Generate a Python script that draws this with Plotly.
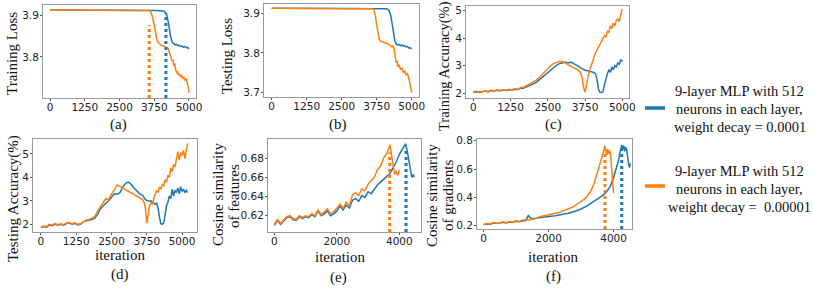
import plotly.graph_objects as go

W, H = 814, 289
BLUE = '#1f77b4'
ORANGE = '#ff7f0e'

# ---------------- (a) Training Loss ----------------
a_blue_x = [0, 500, 1000, 1500, 2000, 2500, 3000, 3500, 3800, 4000, 4100, 4150, 4200, 4250, 4300, 4350, 4400,
            4450, 4500, 4550, 4600, 4650, 4700, 4750, 4800, 4850, 4900, 4950, 5000]
a_blue_y = [3.912, 3.912, 3.912, 3.912, 3.912, 3.912, 3.912, 3.912, 3.911, 3.910, 3.909, 3.906, 3.900, 3.885,
            3.862, 3.845, 3.835, 3.831, 3.829, 3.830, 3.827, 3.828, 3.825, 3.826, 3.823, 3.825, 3.822, 3.823, 3.819]
a_orange_x = [0, 500, 1000, 1500, 2000, 2500, 3000, 3400, 3550, 3620, 3680, 3720, 3760, 3800, 3850, 3900, 3950,
              4000, 4050, 4100, 4150, 4200, 4250, 4300, 4350, 4400, 4430, 4460, 4490, 4520, 4550, 4580, 4620,
              4660, 4700, 4740, 4780, 4820, 4860, 4900, 4940, 4970, 5000]
a_orange_y = [3.912, 3.912, 3.912, 3.912, 3.912, 3.912, 3.912, 3.912, 3.911, 3.908, 3.898, 3.885, 3.868, 3.852,
              3.840, 3.834, 3.830, 3.828, 3.826, 3.825, 3.825, 3.823, 3.820, 3.812, 3.800, 3.790, 3.793, 3.778,
              3.785, 3.770, 3.762, 3.766, 3.757, 3.760, 3.752, 3.756, 3.748, 3.752, 3.745, 3.748, 3.738, 3.730, 3.715]
a_vline_x = [4170, 3570]       # blue, orange
a_vline_top = [3.905, 3.876]

# ---------------- (b) Testing Loss ----------------
b_blue_x = [0, 500, 1000, 1500, 2000, 2500, 3000, 3500, 4000, 4100, 4150, 4200, 4250, 4300, 4350, 4400, 4450,
            4500, 4550, 4600, 4650, 4700, 4750, 4800, 4850, 4900, 4950, 5000]
b_blue_y = [3.912, 3.912, 3.912, 3.912, 3.912, 3.912, 3.912, 3.912, 3.912, 3.911, 3.909, 3.905, 3.895, 3.870,
            3.845, 3.830, 3.822, 3.820, 3.821, 3.818, 3.820, 3.817, 3.818, 3.815, 3.816, 3.812, 3.813, 3.810]
b_orange_x = [0, 500, 1000, 1500, 2000, 2500, 3000, 3500, 3600, 3650, 3700, 3750, 3800, 3850, 3900, 3950, 4000,
              4050, 4100, 4150, 4200, 4250, 4300, 4330, 4360, 4400, 4450, 4480, 4500, 4550, 4600, 4650, 4700,
              4750, 4800, 4850, 4900, 4950, 5000]
b_orange_y = [3.912, 3.912, 3.912, 3.912, 3.912, 3.912, 3.912, 3.912, 3.911, 3.908, 3.895, 3.870, 3.845, 3.832,
              3.829, 3.828, 3.827, 3.826, 3.825, 3.823, 3.820, 3.817, 3.815, 3.818, 3.812, 3.795, 3.775, 3.780,
              3.765, 3.770, 3.758, 3.762, 3.750, 3.755, 3.745, 3.748, 3.735, 3.720, 3.700]

# ---------------- (c) Training Accuracy ----------------
c_x = [0, 100, 200, 300, 400, 500, 600, 700, 800, 900, 1000, 1100, 1200, 1300, 1400, 1500, 1600, 1700, 1800,
       1900, 2000, 2100, 2200, 2300, 2400, 2500, 2600, 2700, 2800, 2900, 3000, 3100, 3200, 3300, 3400, 3500,
       3550, 3600, 3650, 3700, 3750, 3800, 3850, 3900, 3950, 4000, 4050, 4100, 4150, 4200, 4250, 4300, 4350,
       4400, 4450, 4500, 4550, 4600, 4650, 4700, 4750, 4800, 4850, 4900, 4950, 5000]
c_blue_y = [2.03, 2.06, 2.02, 2.05, 2.07, 2.04, 2.09, 2.07, 2.10, 2.08, 2.11, 2.09, 2.12, 2.11, 2.14, 2.13, 2.17,
            2.18, 2.23, 2.27, 2.33, 2.38, 2.47, 2.56, 2.66, 2.76, 2.86, 2.95, 3.02, 3.08, 3.10, 3.12, 3.10, 3.12,
            3.05, 3.00, 2.96, 2.92, 2.88, 2.85, 2.83, 2.82, 2.81, 2.80, 2.79, 2.78, 2.75, 2.70, 2.50, 2.15, 2.03,
            2.02, 2.05, 2.30, 2.55, 2.70, 2.85, 2.75, 2.95, 2.85, 3.00, 2.95, 3.10, 3.05, 3.22, 3.15]
c_orange_y = [2.05, 2.02, 2.06, 2.04, 2.08, 2.06, 2.10, 2.08, 2.12, 2.09, 2.12, 2.10, 2.14, 2.12, 2.16, 2.14,
              2.20, 2.22, 2.28, 2.33, 2.40, 2.46, 2.55, 2.66, 2.78, 2.90, 3.00, 3.08, 3.13, 3.16, 3.14, 3.10,
              3.02, 2.97, 2.90, 2.85, 2.80, 2.75, 2.55, 2.20, 2.03, 2.35, 2.60, 2.80, 3.00, 3.15, 3.30, 3.45,
              3.55, 3.65, 3.80, 3.85, 3.95, 4.10, 4.05, 4.25, 4.20, 4.45, 4.35, 4.55, 4.45, 4.65, 4.70, 4.60,
              4.85, 5.05]

# ---------------- (d) Testing Accuracy ----------------
d_x = [0, 100, 200, 300, 400, 500, 600, 700, 800, 900, 1000, 1100, 1200, 1300, 1400, 1500, 1600, 1700, 1800,
       1900, 2000, 2100, 2200, 2300, 2400, 2500, 2600, 2700, 2800, 2900, 3000, 3100, 3200, 3300, 3400, 3500,
       3600, 3650, 3700, 3750, 3800, 3850, 3900, 3950, 4000, 4050, 4100, 4150, 4200, 4250, 4300, 4350, 4400,
       4450, 4500, 4550, 4600, 4650, 4700, 4750, 4800, 4850, 4900, 4950, 5000, 5050, 5100, 5150, 5200]
d_blue_y = [1.86, 1.90, 1.87, 1.97, 1.94, 2.01, 1.96, 2.00, 1.95, 2.03, 2.06, 2.00, 2.04, 1.97, 2.00, 2.10, 2.15,
            2.17, 2.20, 2.25, 2.40, 2.65, 2.80, 2.90, 3.00, 3.15, 3.30, 3.28, 3.35, 3.60, 3.75, 3.80, 3.70, 3.55,
            3.40, 3.30, 3.25, 3.15, 3.05, 3.02, 3.00, 2.98, 3.00, 2.95, 2.88, 2.85, 2.90, 2.70, 2.30, 2.02, 2.00,
            2.05, 2.40, 2.80, 2.95, 3.20, 3.10, 3.50, 3.20, 3.45, 3.35, 3.55, 3.30, 3.60, 3.40, 3.50, 3.35, 3.45,
            3.35]
d_orange_y = [1.88, 1.92, 1.90, 2.00, 1.96, 2.03, 1.98, 2.02, 1.97, 2.05, 2.08, 2.02, 2.06, 1.99, 2.02, 2.12,
              2.18, 2.20, 2.25, 2.32, 2.55, 2.75, 2.90, 3.10, 3.05, 3.30, 3.45, 3.68, 3.62, 3.55, 3.48, 3.42,
              3.35, 3.25, 3.20, 3.12, 3.05, 2.95, 2.70, 2.05, 2.40, 2.80, 2.95, 2.85, 3.10, 3.25, 3.45, 3.35,
              3.60, 3.50, 3.70, 3.65, 3.90, 3.80, 4.10, 4.00, 4.40, 4.25, 4.55, 4.45, 4.80, 5.10, 4.75, 5.05,
              4.95, 5.15, 4.80, 5.10, 5.45]

# ---------------- (e) Cosine similarity of features ----------------
e_blue_x = [0, 100, 200, 300, 400, 500, 600, 700, 800, 900, 1000, 1100, 1200, 1300, 1400, 1500, 1600, 1700,
            1800, 1900, 2000, 2100, 2200, 2300, 2400, 2500, 2600, 2700, 2800, 2900, 3000, 3100, 3200, 3300,
            3400, 3500, 3600, 3700, 3800, 3900, 4000, 4100, 4150, 4200, 4250, 4300, 4350, 4400, 4450, 4480]
e_blue_y = [0.610, 0.615, 0.611, 0.614, 0.618, 0.619, 0.616, 0.615, 0.619, 0.617, 0.619, 0.618, 0.621, 0.619,
            0.625, 0.620, 0.622, 0.625, 0.620, 0.622, 0.625, 0.630, 0.626, 0.631, 0.628, 0.636, 0.638, 0.635,
            0.641, 0.639, 0.645, 0.643, 0.648, 0.652, 0.655, 0.658, 0.661, 0.664, 0.670, 0.676, 0.684, 0.690,
            0.692, 0.695, 0.688, 0.678, 0.668, 0.660, 0.663, 0.660]
e_orange_x = [0, 100, 200, 300, 400, 500, 600, 700, 800, 900, 1000, 1100, 1200, 1300, 1400, 1500, 1600, 1700,
              1800, 1900, 2000, 2100, 2200, 2300, 2400, 2500, 2600, 2700, 2800, 2900, 3000, 3100, 3200, 3300,
              3400, 3500, 3600, 3700, 3750, 3800, 3850, 3900, 3950, 4000]
e_orange_y = [0.611, 0.616, 0.612, 0.615, 0.619, 0.620, 0.617, 0.616, 0.620, 0.618, 0.620, 0.619, 0.622, 0.620,
              0.626, 0.621, 0.624, 0.627, 0.622, 0.624, 0.628, 0.632, 0.628, 0.634, 0.630, 0.642, 0.644, 0.641,
              0.648, 0.646, 0.653, 0.656, 0.660, 0.668, 0.672, 0.680, 0.685, 0.694, 0.684, 0.670, 0.663, 0.667,
              0.662, 0.668]
e_vline_x = [4215, 3690]
e_vline_top = [0.690, 0.686]

# ---------------- (f) Cosine similarity of gradients ----------------
f_blue_x = [0, 100, 200, 300, 400, 500, 600, 700, 800, 900, 1000, 1100, 1200, 1300, 1380, 1420, 1500, 1600,
            1700, 1800, 1900, 2000, 2200, 2400, 2600, 2800, 3000, 3200, 3400, 3500, 3600, 3700, 3800, 3900,
            4000, 4100, 4150, 4200, 4250, 4280, 4310, 4340, 4370, 4400, 4430, 4460, 4490, 4510]
f_blue_y = [0.208, 0.213, 0.210, 0.219, 0.216, 0.218, 0.225, 0.220, 0.227, 0.224, 0.232, 0.228, 0.235, 0.238,
            0.275, 0.258, 0.250, 0.252, 0.255, 0.258, 0.260, 0.265, 0.270, 0.278, 0.288, 0.300, 0.318, 0.342,
            0.372, 0.390, 0.405, 0.420, 0.445, 0.480, 0.540, 0.610, 0.660, 0.720, 0.770, 0.745, 0.765, 0.725,
            0.755, 0.740, 0.680, 0.640, 0.610, 0.640]
f_orange_x = [0, 100, 200, 300, 400, 500, 600, 700, 800, 900, 1000, 1100, 1200, 1300, 1400, 1500, 1600, 1700,
              1800, 1900, 2000, 2100, 2200, 2300, 2400, 2500, 2600, 2700, 2800, 2900, 3000, 3100, 3200, 3300,
              3400, 3500, 3550, 3600, 3650, 3700, 3730, 3760, 3790, 3820, 3850, 3880, 3910, 3940, 3970, 4000]
f_orange_y = [0.210, 0.215, 0.212, 0.222, 0.218, 0.220, 0.228, 0.222, 0.230, 0.226, 0.235, 0.230, 0.238, 0.242,
              0.240, 0.245, 0.250, 0.262, 0.268, 0.272, 0.278, 0.283, 0.288, 0.292, 0.300, 0.310, 0.318, 0.328,
              0.340, 0.355, 0.370, 0.388, 0.412, 0.445, 0.500, 0.570, 0.610, 0.650, 0.690, 0.730, 0.765, 0.735,
              0.700, 0.740, 0.705, 0.730, 0.700, 0.600, 0.500, 0.430]
f_vline_x = [4250, 3735]
f_vline_top = [0.750, 0.735]

x_ticks_long = [0, 1250, 2500, 3750, 5000]
x_ticks_short = [0, 2000, 4000]

legend_blue = ["9-layer MLP with 512", "neurons in each layer,", "weight decay = 0.0001"]
legend_orange = ["9-layer MLP with 512", "neurons in each layer,", "weight decay =  0.00001"]

# ---------------- layout helpers ----------------
def fx(p):
    return p / W


def fy(p):
    return 1 - p / H


panels = [
    dict(box=(43, 196, 5, 98), xr=[-252, 5252], yr=[3.702, 3.924], xt=x_ticks_long, yt=[3.8, 3.9],
         series=[(a_blue_x, a_blue_y, BLUE), (a_orange_x, a_orange_y, ORANGE)],
         vl=[(a_vline_x[0], a_vline_top[0], BLUE), (a_vline_x[1], a_vline_top[1], ORANGE)]),
    dict(box=(264, 419, 4, 97), xr=[-275, 5260], yr=[3.689, 3.923], xt=x_ticks_long, yt=[3.7, 3.8, 3.9],
         series=[(b_blue_x, b_blue_y, BLUE), (b_orange_x, b_orange_y, ORANGE)], vl=[]),
    dict(box=(466, 629, 6, 98), xr=[-245, 5225], yr=[1.82, 5.17], xt=x_ticks_long, yt=[2, 3, 4, 5],
         series=[(c_x, c_blue_y, BLUE), (c_x, c_orange_y, ORANGE)], vl=[]),
    dict(box=(33, 197, 139, 232), xr=[-282, 5530], yr=[1.67, 5.64], xt=x_ticks_long, yt=[2, 3, 4, 5],
         series=[(d_x, d_blue_y, BLUE), (d_x, d_orange_y, ORANGE)], vl=[]),
    dict(box=(268, 421, 139, 232), xr=[-202, 4694], yr=[0.603, 0.700], xt=x_ticks_short,
         yt=[0.62, 0.64, 0.66, 0.68],
         series=[(e_blue_x, e_blue_y, BLUE), (e_orange_x, e_orange_y, ORANGE)],
         vl=[(e_vline_x[0], e_vline_top[0], BLUE), (e_vline_x[1], e_vline_top[1], ORANGE)]),
    dict(box=(477, 632, 139, 229), xr=[-203, 4566], yr=[0.177, 0.812], xt=x_ticks_short,
         yt=[0.2, 0.4, 0.6, 0.8],
         series=[(f_blue_x, f_blue_y, BLUE), (f_orange_x, f_orange_y, ORANGE)],
         vl=[(f_vline_x[0], f_vline_top[0], BLUE), (f_vline_x[1], f_vline_top[1], ORANGE)]),
]

fig = go.Figure()
AXCOL = '#9a9a9a'
TICKFONT = dict(family='DejaVu Sans', size=10.5, color='#222222')
SERIF = 'Liberation Serif'

for i, p in enumerate(panels):
    n = '' if i == 0 else str(i + 1)
    xa, ya = 'x' + n, 'y' + n
    for sx, sy, col in p['series']:
        assert len(sx) == len(sy), (i, len(sx), len(sy))
        fig.add_trace(go.Scatter(x=sx, y=sy, mode='lines', line=dict(color=col, width=1.5),
                                 xaxis=xa, yaxis=ya, showlegend=False, hoverinfo='skip'))
    for vx, vtop, col in p['vl']:
        fig.add_trace(go.Scatter(x=[vx, vx], y=[p['yr'][0], vtop], mode='lines',
                                 line=dict(color=col, width=3, dash='dot'),
                                 xaxis=xa, yaxis=ya, showlegend=False, hoverinfo='skip'))
    x0, x1, y0, y1 = p['box']
    common = dict(showline=True, mirror=True, linecolor=AXCOL, linewidth=1, ticks='outside', ticklen=2,
                  tickcolor='#555555', tickwidth=1, showgrid=False, zeroline=False, tickfont=TICKFONT,
                  fixedrange=True, automargin=False)
    fig.layout['xaxis' + n] = dict(domain=[fx(x0), fx(x1)], range=p['xr'], anchor=ya, tickvals=p['xt'],
                                   ticktext=[str(v) for v in p['xt']], ticklabelstandoff=-3, **common)
    fig.layout['yaxis' + n] = dict(domain=[fy(y1), fy(y0)], range=p['yr'], anchor=xa, tickvals=p['yt'],
                                   ticktext=[str(v) for v in p['yt']], ticklabelstandoff=-1, **common)

annotations = []


def label(text, x, y, size=15, angle=0):
    annotations.append(dict(text=text, x=fx(x), y=fy(y), xref='paper', yref='paper', showarrow=False,
                            xanchor='center', yanchor='middle', textangle=angle, align='center',
                            font=dict(family=SERIF, size=size, color='#111111')))


label('Training Loss', 12, 54, angle=-90)
label('Testing Loss', 227, 56, angle=-90)
label('Training Accuracy(%)', 445, 66, size=14.5, angle=-90)
label('Testing Accuracy(%)', 13, 199, angle=-90)
label('Cosine similarity', 218, 195, angle=-90)
label('of features', 234, 196, angle=-90)
label('Cosine similarity', 432, 195, angle=-90)
label('of gradients', 448, 196, angle=-90)
label('iteration', 120, 255)
label('iteration', 340, 257)
label('iteration', 553, 257)
label('(a)', 118, 125)
label('(b)', 338, 125)
label('(c)', 553, 125)
label('(d)', 120, 274)
label('(e)', 338, 277)
label('(f)', 553, 276)
for k, t in enumerate(legend_blue):
    label(t, 739.5, 91 + 18 * k, size=14.5)
for k, t in enumerate(legend_orange):
    label(t, 739, 170.5 + 18 * k, size=14.5)

shapes = [
    dict(type='line', xref='paper', yref='paper', x0=fx(645), x1=fx(665), y0=fy(108), y1=fy(108),
         line=dict(color=BLUE, width=3.5)),
    dict(type='line', xref='paper', yref='paper', x0=fx(645), x1=fx(665), y0=fy(186), y1=fy(186),
         line=dict(color=ORANGE, width=3.5)),
]

fig.update_layout(width=W, height=H, margin=dict(l=0, r=0, t=0, b=0), paper_bgcolor='white',
                  plot_bgcolor='white', annotations=annotations, shapes=shapes, showlegend=False)

fig.write_html('out.html', config=dict(displayModeBar=False),
               post_script="document.body.style.margin='0';document.body.style.padding='0';")
